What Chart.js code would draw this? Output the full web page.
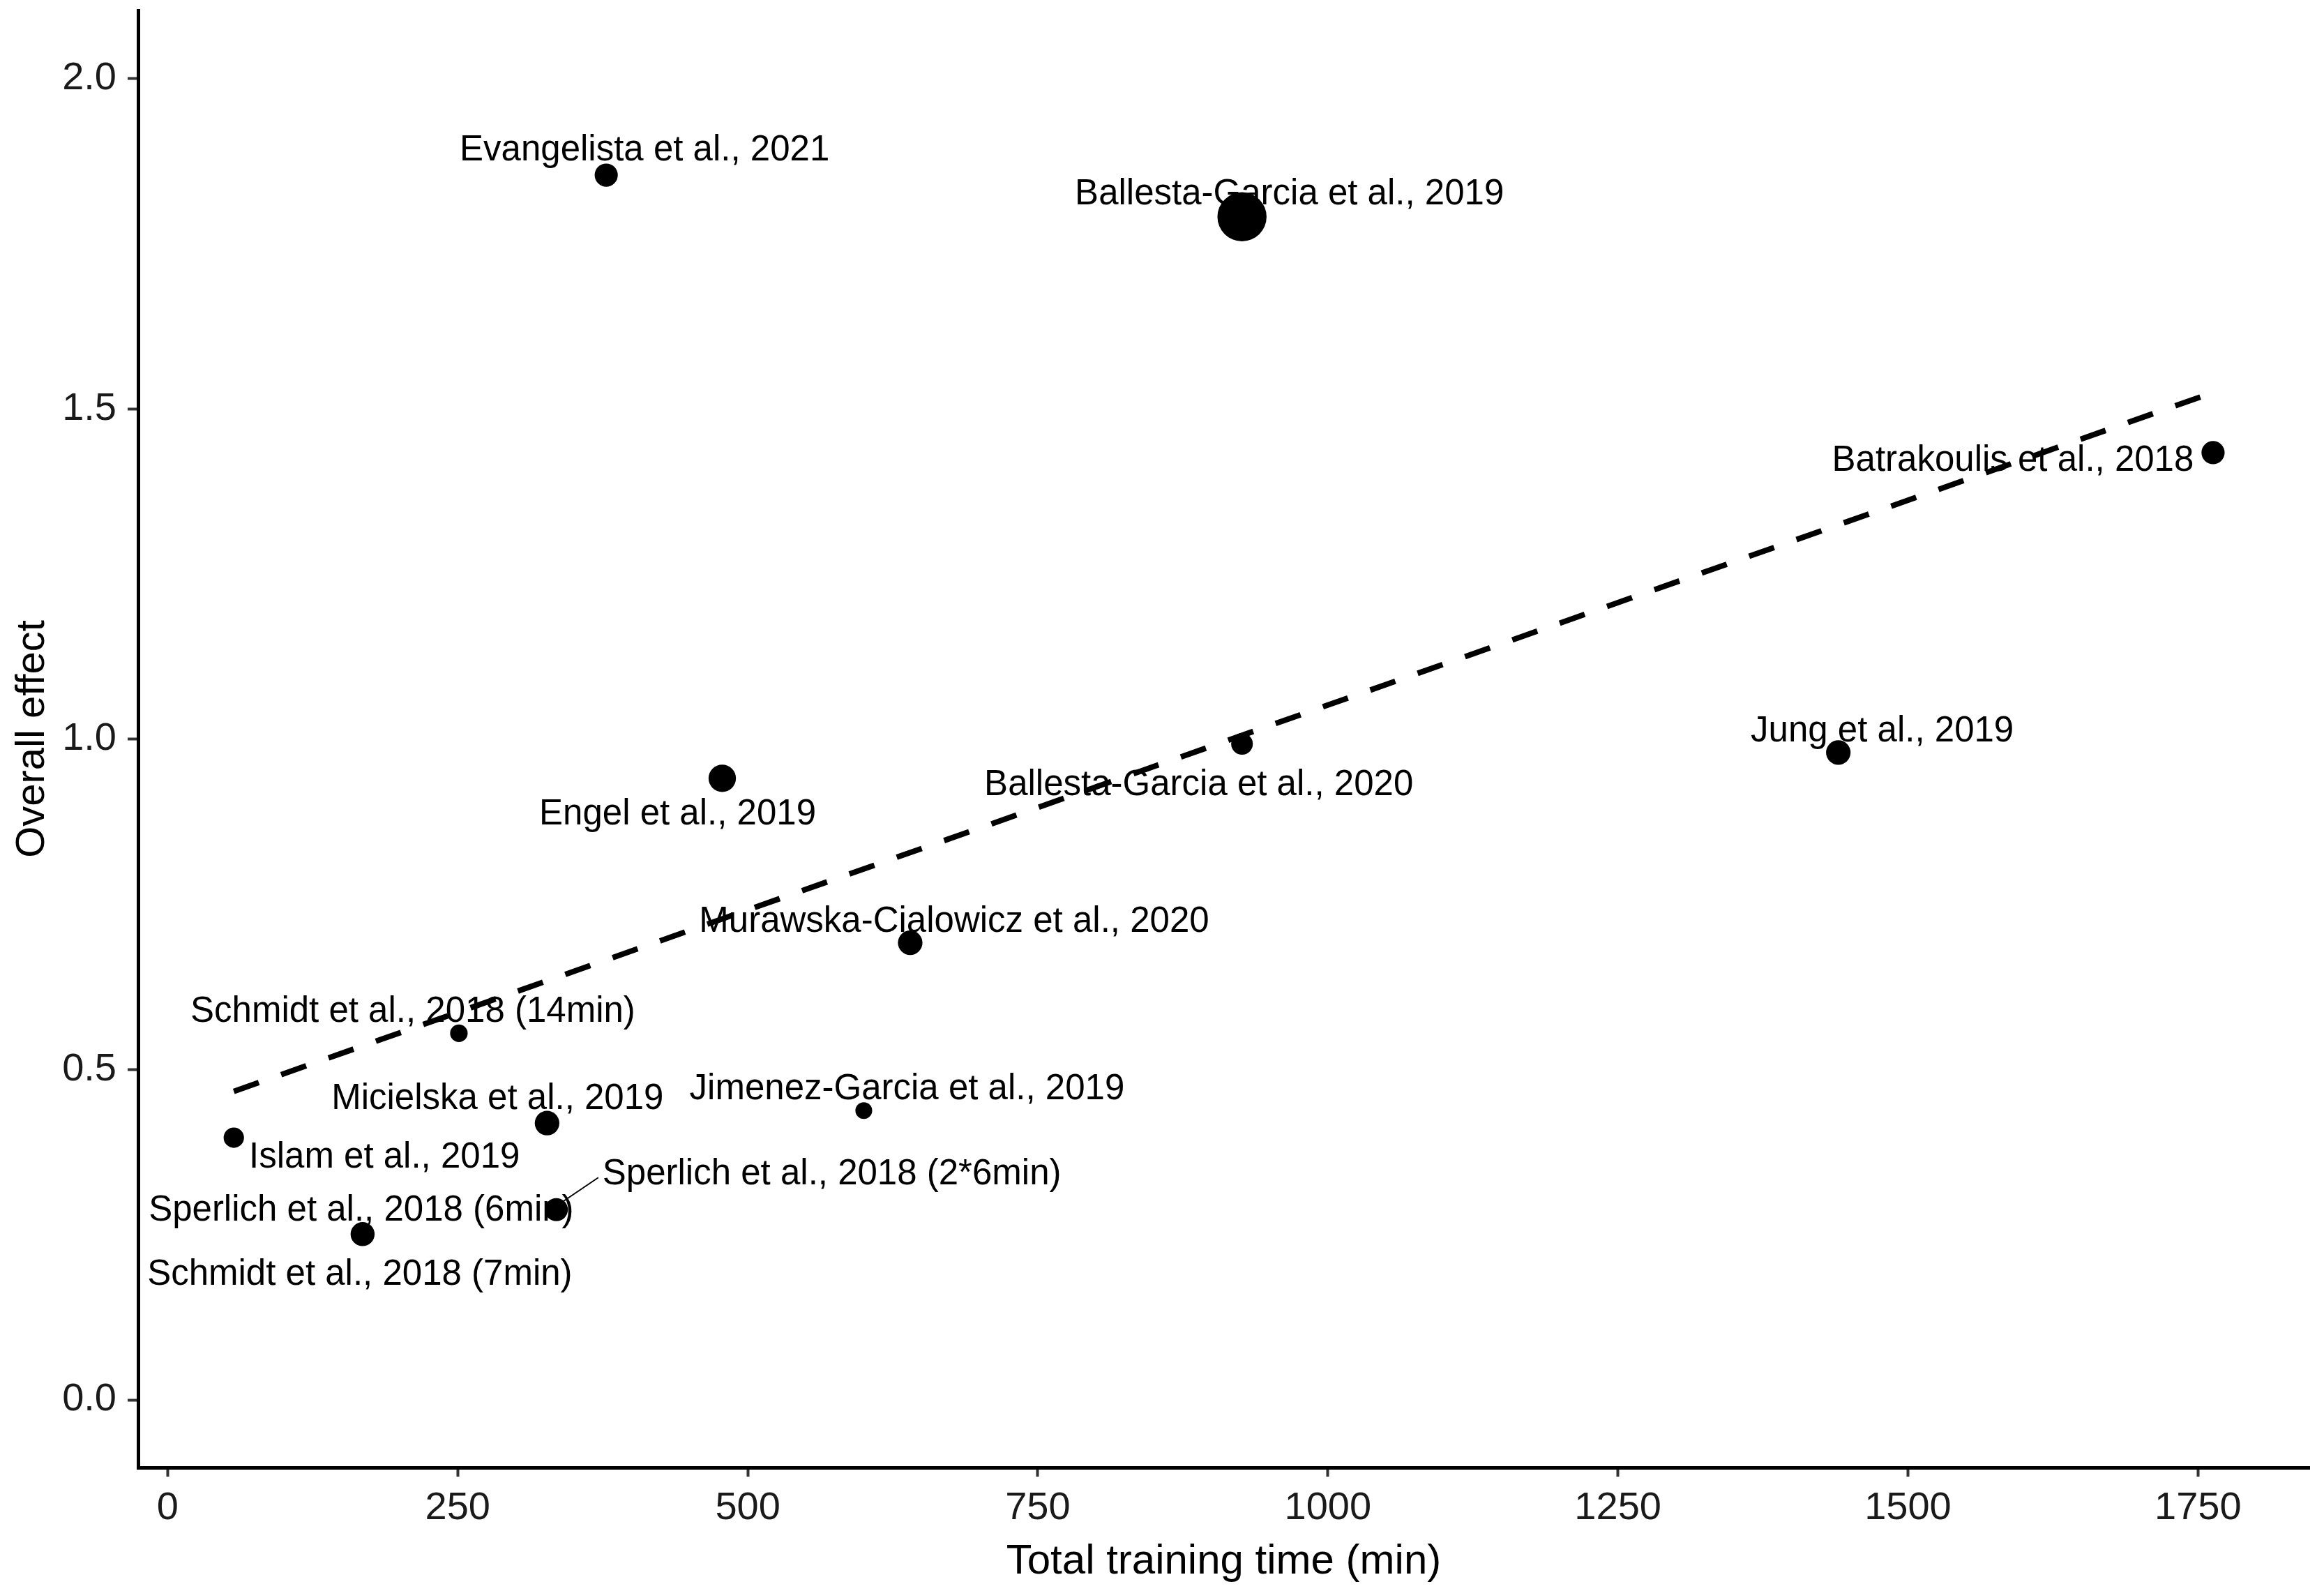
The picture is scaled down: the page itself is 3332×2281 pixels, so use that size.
<!DOCTYPE html>
<html>
<head>
<meta charset="utf-8">
<script src="https://cdn.jsdelivr.net/npm/chart.js@4.4.1/dist/chart.umd.min.js"></script>
<style>
  html, body { margin: 0; padding: 0; background: #fff; }
  canvas { display: block; }
</style>
</head>
<body>
<canvas id="myChart" width="3332" height="2281"></canvas>
<script>
// data
const studies = [
    'Evangelista et al., 2021',
    'Ballesta-Garcia et al., 2019',
    'Batrakoulis et al., 2018',
    'Jung et al., 2019',
    'Ballesta-Garcia et al., 2020',
    'Engel et al., 2019',
    'Murawska-Cialowicz et al., 2020',
    'Schmidt et al., 2018 (14min)',
    'Jimenez-Garcia et al., 2019',
    'Micielska et al., 2019',
    'Islam et al., 2019',
    'Sperlich et al., 2018 (2*6min)',
    'Sperlich et al., 2018 (6min)',
    'Schmidt et al., 2018 (7min)'
];
const trainingTime = [378, 926, 1763, 1440, 926, 478, 640, 251, 600, 327, 57, 335, 168, 168];
const overallEffect = [1.854, 1.791, 1.434, 0.980, 0.993, 0.941, 0.692, 0.555, 0.438, 0.419, 0.397, 0.288, 0.251, 0.251];
const studyWeight = [4.0, 18.0, 4.0, 4.5, 3.5, 5.6, 4.5, 2.3, 2.1, 4.5, 3.1, 4.0, 4.0, 4.3];

// fitted line ends
const trendTime = [57, 1763];
const trendEffect = [0.467, 1.525];

const xTicks = [0, 250, 500, 750, 1000, 1250, 1500, 1750];
const yTicks = [0.0, 0.5, 1.0, 1.5, 2.0];

// label placement (pixel offsets from each point), leader flag
const labelOffsets = [
    [55, -35], [68, -32], [-287, 12], [63, -30], [-62, 59], [-64, 52], [63, -30],
    [-66, -30], [62, -30], [-71, -34], [216, 29], [395, -50, true], [-2, -33], [-4, 59]
];

const fontFamily = '"Liberation Sans", Arial, sans-serif';
const labelFont = '51px ' + fontFamily;

const studyLabels = {
    id: 'studyLabels',
    beforeDatasetsDraw(chart) {
        const {ctx, scales: {x, y}} = chart;
        ctx.save();
        ctx.font = labelFont;
        ctx.fillStyle = '#000';
        ctx.textAlign = 'center';
        ctx.textBaseline = 'middle';
        studies.forEach((name, i) => {
            const px = x.getPixelForValue(trainingTime[i]);
            const py = y.getPixelForValue(overallEffect[i]);
            const [dx, dy, leader] = labelOffsets[i];
            if (leader) {
                const w = ctx.measureText(name).width;
                ctx.strokeStyle = '#000';
                ctx.lineWidth = 2;
                ctx.beginPath();
                ctx.moveTo(px + 10, py - 12);
                ctx.lineTo(px + dx - w / 2 - 6, py + dy + 4);
                ctx.stroke();
            }
            ctx.fillText(name, px + dx, py + dy);
        });
        ctx.restore();
    }
};

const points = trainingTime.map((t, i) => ({x: t, y: overallEffect[i]}));
const trend = trendTime.map((t, i) => ({x: t, y: trendEffect[i]}));

const config = {
    type: 'scatter',
    data: {
        datasets: [{
                label: 'Studies',
                data: points,
                backgroundColor: '#000',
                borderWidth: 0,
                pointRadius: studyWeight.map(w => 8.3 * Math.sqrt(w))
            },
            {
                type: 'line',
                label: 'Trend',
                data: trend,
                borderColor: '#000',
                borderWidth: 8,
                borderDash: [38, 34],
                pointRadius: 0,
                fill: false
            }]
    },
    options: {
        responsive: false,
        devicePixelRatio: 1,
        animation: false,
        events: [],
        layout: { autoPadding: false, padding: { left: 0, right: 21, top: 15, bottom: 0 } },
        plugins: {
            legend: { display: false },
            tooltip: { enabled: false }
        },
        scales: {
            x: {
                type: 'linear',
                min: -25.5,
                max: 1846,
                afterFit: (s) => { s.height = 177; s.paddingLeft = 0; s.paddingRight = 0; },
                afterBuildTicks: (s) => { s.ticks = xTicks.map(v => ({value: v})); },
                border: { display: true, color: '#000', width: 5 },
                grid: { drawOnChartArea: false, drawTicks: true, tickLength: 13, tickWidth: 4, tickColor: '#333' },
                ticks: {
                    autoSkip: false,
                    maxRotation: 0,
                    padding: 12,
                    color: '#1a1a1a',
                    font: { family: fontFamily, size: 56 },
                    callback: (v) => String(v)
                },
                title: {
                    display: true,
                    text: 'Total training time (min)',
                    color: '#000',
                    padding: { top: 0, bottom: 6 },
                    font: { family: fontFamily, size: 60 }
                }
            },
            y: {
                type: 'linear',
                min: -0.1024,
                max: 2.1033,
                afterFit: (s) => { s.width = 198; s.paddingTop = 0; s.paddingBottom = 0; },
                afterBuildTicks: (s) => { s.ticks = yTicks.map(v => ({value: v})); },
                border: { display: true, color: '#000', width: 5 },
                grid: { drawOnChartArea: false, drawTicks: true, tickLength: 15, tickWidth: 4, tickColor: '#333' },
                ticks: {
                    autoSkip: false,
                    padding: 16,
                    color: '#1a1a1a',
                    font: { family: fontFamily, size: 56 },
                    callback: (v) => Number(v).toFixed(1)
                },
                title: {
                    display: true,
                    text: 'Overall effect',
                    color: '#000',
                    padding: { top: 12, bottom: 0 },
                    font: { family: fontFamily, size: 58 }
                }
            }
        }
    },
    plugins: [studyLabels]
};

const myChart = new Chart(document.getElementById('myChart'), config);
</script>
</body>
</html>
